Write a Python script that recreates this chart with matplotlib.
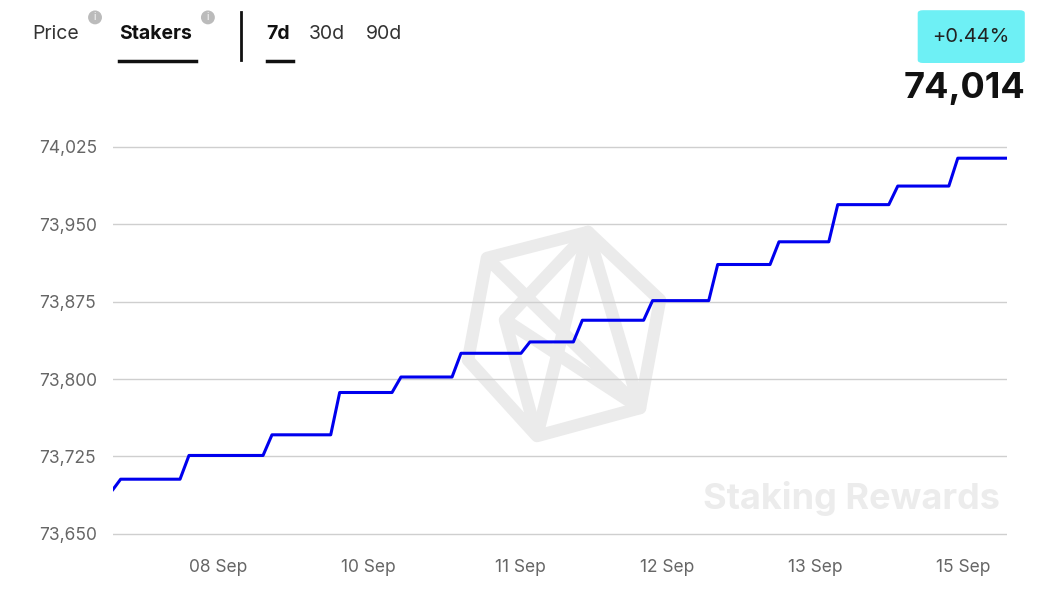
import matplotlib.pyplot as plt
from matplotlib.patches import FancyBboxPatch, Polygon

# step times (days from start) and plateau values
step_days = [0.56, 1.21, 1.74, 2.22, 2.69, 3.23, 3.64, 4.19, 4.70, 5.18, 5.64, 6.11, 6.58]
levels = [73703, 73726, 73746, 73787, 73802, 73825, 73836, 73857, 73876, 73911, 73933, 73969, 73987, 74014]
start_value = 73693
end_day = 7.0
tick_pos = [0.82, 2.0, 3.19, 4.34, 5.5, 6.66]
tick_labels = ['08 Sep', '10 Sep', '11 Sep', '12 Sep', '13 Sep', '15 Sep']
yticks = [73650, 73725, 73800, 73875, 73950, 74025]

xs = [0.0, 0.06]
ys = [start_value, levels[0]]
for t, prev, new in zip(step_days, levels[:-1], levels[1:]):
    xs += [t - 0.035, t + 0.035]
    ys += [prev, new]
xs.append(end_day)
ys.append(levels[-1])

plt.rcParams['font.family'] = ['Inter', 'DejaVu Sans']
fig = plt.figure(figsize=(10.5, 6), dpi=100)
ax = fig.add_axes([0.1076, 0.105, 0.8514, 0.695])
ax.set_zorder(2)

# watermark (pixel coords -> figure fraction)
def fp(pts):
    return [(x / 1050, 1 - y / 600) for x, y in pts]

wm = dict(fill=False, ec='#ebebeb', lw=9, transform=fig.transFigure, zorder=0, joinstyle='round')
outer = [(588, 232), (660, 300), (640, 408), (537, 436), (468, 360), (487, 258)]
inner = [(505, 320), (588, 232), (640, 408), (505, 320), (537, 436)]
inner2 = [(487, 258), (640, 408)]
inner3 = [(588, 232), (537, 436)]
fig.patches.append(Polygon(fp(outer), closed=True, **wm))
for seg in (inner, inner2, inner3):
    fig.patches.append(Polygon(fp(seg), closed=False, **wm))
fig.text(0.952, 0.17, 'Staking Rewards', ha='right', va='center', fontsize=26, fontweight='bold', color='#ececec')

ax.plot(xs, ys, color='#0000ee', lw=2.2, solid_joinstyle='round', zorder=3)
ax.set_xlim(0, end_day)
ax.set_ylim(73647, 74051)
ax.set_yticks(yticks)
ax.set_yticklabels([f'{v:,}' for v in yticks])
ax.set_xticks(tick_pos)
ax.set_xticklabels(tick_labels)
ax.grid(axis='y', color='#cfcfcf', lw=1)
for s in ax.spines.values():
    s.set_visible(False)
ax.tick_params(length=0, labelsize=12.5, colors='#666666')
ax.tick_params(axis='x', pad=16)
ax.tick_params(axis='y', pad=53)
for lab in ax.get_yticklabels():
    lab.set_horizontalalignment('left')
ax.patch.set_alpha(0)

# header
fig.text(0.031, 0.943, 'Price', fontsize=14, color='#333333', va='center')
fig.text(0.113, 0.943, 'Stakers', fontsize=14, fontweight='bold', color='#111111', va='center')
fig.text(0.0905, 0.971, 'i', fontsize=7, color='white', ha='center', va='center',
         bbox=dict(boxstyle='circle,pad=0.2', fc='#bbbbbb', ec='none'))
fig.text(0.198, 0.971, 'i', fontsize=7, color='white', ha='center', va='center',
         bbox=dict(boxstyle='circle,pad=0.2', fc='#bbbbbb', ec='none'))
fig.add_artist(plt.Line2D([0.113, 0.187], [0.898, 0.898], color='#111111', lw=2.5))
fig.add_artist(plt.Line2D([0.2295, 0.2295], [0.9, 0.98], color='#111111', lw=2))
fig.text(0.254, 0.943, '7d', fontsize=14, fontweight='bold', color='#111111', va='center')
fig.add_artist(plt.Line2D([0.254, 0.279], [0.898, 0.898], color='#111111', lw=2.5))
fig.text(0.294, 0.943, '30d', fontsize=14, color='#333333', va='center')
fig.text(0.348, 0.943, '90d', fontsize=14, color='#333333', va='center')
fig.patches.append(FancyBboxPatch((0.874, 0.895), 0.102, 0.088, boxstyle='round,pad=0,rounding_size=0.005',
                                  fc='#6ef0f5', ec='none', transform=fig.transFigure))
fig.text(0.925, 0.939, '+0.44%', fontsize=14.5, color='#222222', ha='center', va='center')
fig.text(0.977, 0.852, '74,014', fontsize=26, fontweight='bold', color='#111111', ha='right', va='center')

fig.savefig('out.png', dpi=100)
